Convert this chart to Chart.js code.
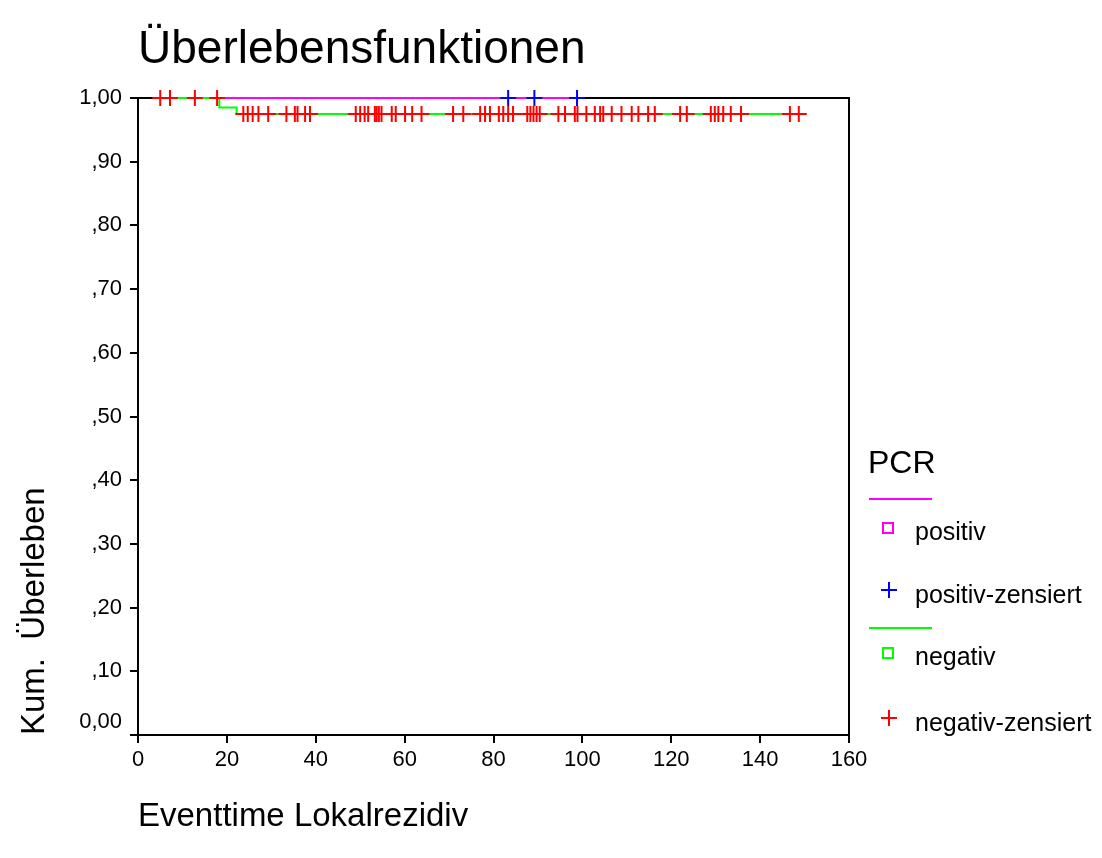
<!DOCTYPE html>
<html>
<head>
<meta charset="utf-8">
<script src="https://cdn.jsdelivr.net/npm/chart.js@4/dist/chart.umd.min.js"></script>
<style>
  html, body { margin: 0; padding: 0; background: #fff; }
</style>
</head>
<body>
<canvas id="km" width="1102" height="858"></canvas>
<script>
// axis ticks as printed by SPSS
const xTickValues = [0, 20, 40, 60, 80, 100, 120, 140, 160];
const xTickLabels = ["0", "20", "40", "60", "80", "100", "120", "140", "160"];
const yTickValues = [0, 0.1, 0.2, 0.3, 0.4, 0.5, 0.6, 0.7, 0.8, 0.9, 1];
const yTickLabels = ["0,00", ",10", ",20", ",30", ",40", ",50", ",60", ",70", ",80", ",90", "1,00"];

// PCR negativ: step curve (time, cum. survival) and censored times
const negCurveTimes = [5.0, 18.3, 22.2, 148.7];
const negCurveSurv = [1, 0.985, 0.975, 0.975];
const negCensored = [
  5.0, 7.2, 12.8, 17.8,
  23.7, 24.7, 25.8, 27.1, 29.3, 33.4, 35.3, 35.9, 37.6, 38.7,
  49.0, 50.0, 51.0, 51.8, 53.3, 53.7, 54.2, 54.8, 57.1, 58.0, 60.1, 61.7, 63.8,
  70.9, 73.2, 77.0, 78.1, 79.2, 81.2, 82.2, 83.3, 84.4,
  87.6, 88.3, 89.0, 89.7, 90.4, 94.6, 96.1, 98.3, 98.9, 100.9, 102.8, 104.0, 104.7, 106.6, 108.8,
  111.1, 112.6, 114.8, 116.3, 122.0, 123.5, 128.9, 129.8, 130.6, 131.7,
  133.4, 135.7, 146.7, 148.7
];

// PCR positiv: no events, only censored cases
const posCurveTimes = [18.3, 98.8];
const posCurveSurv = [1, 1];
const posCensored = [83.3, 89.2, 98.8];

// survival of a step curve at time t
function survAt(times, surv, t) {
  let s = surv[0];
  times.forEach((ti, i) => { if (ti <= t) s = surv[i]; });
  return s;
}

const toPoints = (times, surv) => times.map((t, i) => ({ x: t, y: surv[i] }));

const FONT = "'Liberation Sans', Arial, Helvetica, sans-serif";

// title, frame and the SPSS style legend
const spssDecor = {
  id: "spssDecor",
  beforeDatasetsDraw(chart) {
    const { ctx, chartArea: a } = chart;
    ctx.save();
    ctx.strokeStyle = "#000";
    ctx.lineWidth = 2;
    ctx.strokeRect(a.left, a.top, a.right - a.left, a.bottom - a.top);
    ctx.restore();
  },
  afterDraw(chart) {
    const { ctx } = chart;
    ctx.save();
    ctx.fillStyle = "#000";
    ctx.textBaseline = "alphabetic";
    ctx.textAlign = "left";
    ctx.font = "46px " + FONT;
    ctx.fillText("Überlebensfunktionen", 138, 63);

    ctx.font = "32px " + FONT;
    ctx.fillText("PCR", 868, 473);

    const items = [
      { kind: "line", color: "#ff00ff", y: 499 },
      { kind: "square", color: "#ff00ff", y: 528, text: "positiv", ty: 540 },
      { kind: "cross", color: "#0000ff", y: 590, text: "positiv-zensiert", ty: 603 },
      { kind: "line", color: "#00ff00", y: 628 },
      { kind: "square", color: "#00ff00", y: 653, text: "negativ", ty: 665 },
      { kind: "cross", color: "#ff0000", y: 718, text: "negativ-zensiert", ty: 731 }
    ];
    ctx.lineWidth = 2;
    items.forEach((it) => {
      ctx.strokeStyle = it.color;
      ctx.beginPath();
      if (it.kind === "line") {
        ctx.moveTo(869, it.y);
        ctx.lineTo(932, it.y);
        ctx.stroke();
      } else if (it.kind === "square") {
        ctx.strokeRect(883, it.y - 5, 10, 10);
      } else {
        ctx.moveTo(881, it.y);
        ctx.lineTo(897, it.y);
        ctx.moveTo(889, it.y - 8);
        ctx.lineTo(889, it.y + 8);
        ctx.stroke();
      }
      if (it.text) {
        ctx.font = "25px " + FONT;
        ctx.fillStyle = "#000";
        ctx.fillText(it.text, 915, it.ty);
      }
    });
    ctx.restore();
  }
};

const censorStyle = (color) => ({
  showLine: false,
  pointStyle: "cross",
  pointRadius: 8,
  pointHoverRadius: 8,
  pointBorderWidth: 2,
  borderColor: color,
  backgroundColor: color,
  clip: false
});

const curveStyle = (color) => ({
  showLine: true,
  stepped: true,
  borderColor: color,
  borderWidth: 2,
  pointRadius: 0,
  fill: false,
  clip: false
});

const ctx = document.getElementById("km").getContext("2d");

new Chart(ctx, {
  type: "scatter",
  data: {
    datasets: [
      // first dataset is drawn on top
      {
        label: "negativ-zensiert",
        data: negCensored.map((t) => ({ x: t, y: survAt(negCurveTimes, negCurveSurv, t) })),
        ...censorStyle("#ff0000")
      },
      {
        label: "positiv-zensiert",
        data: posCensored.map((t) => ({ x: t, y: survAt(posCurveTimes, posCurveSurv, t) })),
        ...censorStyle("#0000ff")
      },
      { label: "negativ", data: toPoints(negCurveTimes, negCurveSurv), ...curveStyle("#00ff00") },
      { label: "positiv", data: toPoints(posCurveTimes, posCurveSurv), ...curveStyle("#ff00ff") }
    ]
  },
  options: {
    responsive: false,
    animation: false,
    devicePixelRatio: 1,
    layout: { padding: { top: 98, right: 253, bottom: 0, left: 0 } },
    plugins: {
      legend: { display: false },
      tooltip: { enabled: false }
    },
    scales: {
      x: {
        type: "linear",
        min: 0,
        max: 160,
        afterBuildTicks: (s) => { s.ticks = xTickValues.map((v) => ({ value: v })); },
        afterFit: (s) => { s.height = 123; },
        ticks: {
          callback: (v, i) => xTickLabels[i],
          color: "#000",
          font: { family: FONT, size: 22 },
          padding: 4,
          maxRotation: 0,
          autoSkip: false
        },
        grid: { drawOnChartArea: false, drawTicks: true, tickLength: 8, color: "#000", lineWidth: 2 },
        border: { color: "#000", width: 2 },
        title: {
          display: true,
          text: "Eventtime Lokalrezidiv",
          align: "start",
          color: "#000",
          font: { family: FONT, size: 33 },
          padding: { top: 0, bottom: 21 }
        }
      },
      y: {
        type: "linear",
        min: 0,
        max: 1,
        afterBuildTicks: (s) => { s.ticks = yTickValues.map((v) => ({ value: v })); },
        afterFit: (s) => { s.width = 138; },
        ticks: {
          // SPSS lifts the 0,00 label off the x axis
          callback: (v, i) => (i === 0 ? [yTickLabels[i], ""] : yTickLabels[i]),
          color: "#000",
          font: { family: FONT, size: 22 },
          padding: 8,
          autoSkip: false
        },
        grid: { drawOnChartArea: false, drawTicks: true, tickLength: 8, color: "#000", lineWidth: 2 },
        border: { color: "#000", width: 2 },
        title: {
          display: true,
          text: "Kum.  Überleben",
          align: "start",
          color: "#000",
          font: { family: FONT, size: 33 },
          padding: { top: 15, bottom: 0 }
        }
      }
    }
  },
  plugins: [spssDecor]
});
</script>
</body>
</html>
